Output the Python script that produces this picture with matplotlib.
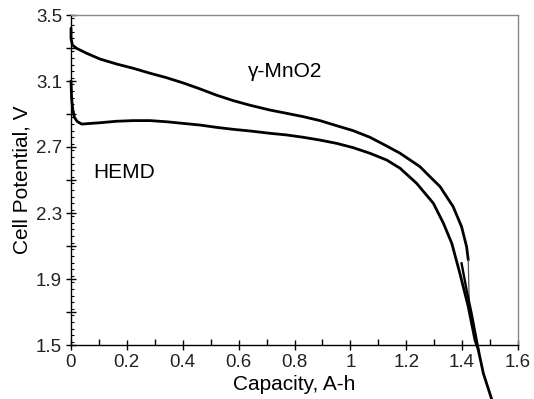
import matplotlib
matplotlib.use("Agg")
import matplotlib.pyplot as plt
from matplotlib.ticker import MultipleLocator

plt.rcParams['font.family'] = ['Liberation Sans', 'DejaVu Sans']

# gamma-MnO2 discharge curve
gamma_cap = [0.0, 0.0, 0.005, 0.020, 0.056, 0.104, 0.163, 0.223, 0.283, 0.342, 0.402,
             0.462, 0.521, 0.581, 0.641, 0.712, 0.772, 0.831, 0.891, 0.951, 1.010,
             1.070, 1.130, 1.178, 1.249, 1.285, 1.321, 1.368, 1.398, 1.416, 1.422]
gamma_v = [3.42, 3.36, 3.318, 3.298, 3.268, 3.233, 3.203, 3.177, 3.147, 3.120, 3.088,
           3.052, 3.014, 2.981, 2.953, 2.924, 2.904, 2.884, 2.860, 2.829, 2.799,
           2.759, 2.706, 2.662, 2.581, 2.52, 2.46, 2.338, 2.217, 2.096, 2.015]
# thin drop segment of gamma curve
gamma_drop_cap = [1.422, 1.424, 1.427]
gamma_drop_v = [2.015, 1.85, 1.70]
# short tail segment of gamma curve
gamma_tail_cap = [1.398, 1.416, 1.434, 1.452, 1.460]
gamma_tail_v = [1.995, 1.833, 1.69, 1.53, 1.46]

# HEMD discharge curve
hemd_cap = [0.0, 0.002, 0.006, 0.012, 0.022, 0.038, 0.104, 0.163, 0.223, 0.283, 0.342,
            0.402, 0.462, 0.521, 0.581, 0.641, 0.712, 0.772, 0.831, 0.891, 0.951,
            1.010, 1.070, 1.130, 1.178, 1.237, 1.297, 1.333, 1.363, 1.392, 1.422,
            1.446, 1.458, 1.476, 1.506]
hemd_v = [3.10, 3.00, 2.93, 2.88, 2.855, 2.839, 2.847, 2.856, 2.860, 2.860, 2.853,
          2.843, 2.833, 2.819, 2.807, 2.797, 2.783, 2.773, 2.759, 2.742, 2.722,
          2.696, 2.662, 2.621, 2.571, 2.48, 2.359, 2.238, 2.116, 1.934, 1.732,
          1.53, 1.47, 1.328, 1.17]

x_ticks = [0, 0.2, 0.4, 0.6, 0.8, 1.0, 1.2, 1.4, 1.6]
x_labels = ['0', '0.2', '0.4', '0.6', '0.8', '1', '1.2', '1.4', '1.6']
y_ticks = [1.5, 1.7, 1.9, 2.1, 2.3, 2.5, 2.7, 2.9, 3.1, 3.3, 3.5]
y_labels = ['1.5', '', '1.9', '', '2.3', '', '2.7', '', '3.1', '', '3.5']

fig = plt.figure(figsize=(5.34, 3.99), dpi=100)
ax = fig.add_axes([71/534, 1-345/399, (518-71)/534, (345-15)/399])

lw = 2.0
ax.plot(gamma_cap, gamma_v, color='black', lw=lw, clip_on=False, solid_capstyle='round')
ax.plot(gamma_drop_cap, gamma_drop_v, color='#555555', lw=0.9, clip_on=False)
ax.plot(gamma_tail_cap, gamma_tail_v, color='black', lw=1.7, clip_on=False)
ax.plot(hemd_cap, hemd_v, color='black', lw=lw, clip_on=False, solid_capstyle='round')

ax.set_xlim(0, 1.6)
ax.set_ylim(1.5, 3.5)

ax.set_xticks(x_ticks)
ax.set_xticklabels(x_labels)
ax.xaxis.set_minor_locator(MultipleLocator(0.1))
ax.set_yticks(y_ticks)
ax.set_yticklabels(y_labels)
ax.yaxis.set_minor_locator(MultipleLocator(0.04))

ax.tick_params(axis='both', which='major', direction='inout', length=7, width=1,
               labelsize=13.5, pad=3, colors='black')
ax.tick_params(axis='x', which='minor', direction='in', length=4, width=1)
ax.tick_params(axis='y', which='minor', direction='in', length=2.5, width=0.8)
ax.tick_params(axis='both', labelcolor='#222222')

for s in ['top', 'right']:
    ax.spines[s].set_color('#888888')
    ax.spines[s].set_linewidth(1.0)
for s in ['left', 'bottom']:
    ax.spines[s].set_color('black')
    ax.spines[s].set_linewidth(1.0)

ax.set_xlabel('Capacity, A-h', fontsize=15, labelpad=3)
ax.set_ylabel('Cell Potential, V', fontsize=15, labelpad=3)

ax.text(0.079, 2.512, 'HEMD', fontsize=15, ha='left', va='baseline')
ax.text(0.634, 3.124, 'γ-MnO2', fontsize=15, ha='left', va='baseline')

fig.savefig('out.png', dpi=100)
